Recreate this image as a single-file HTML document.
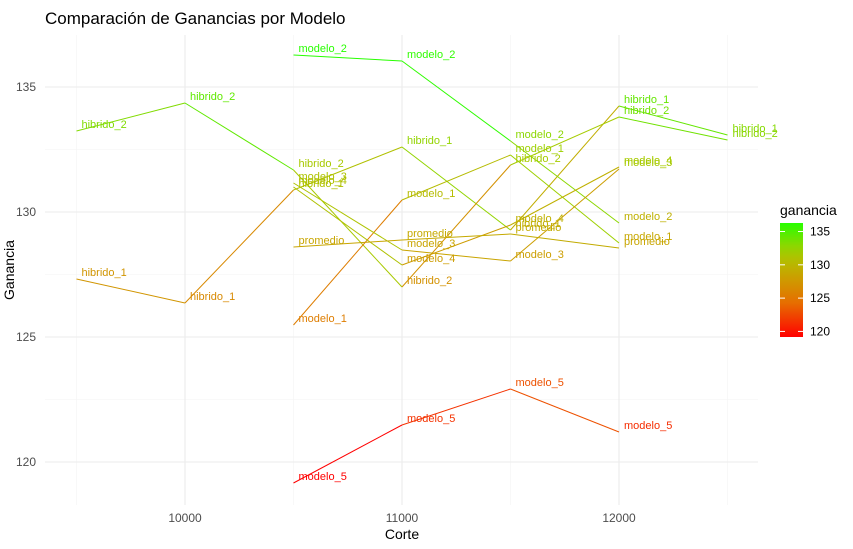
<!DOCTYPE html>
<html><head><meta charset="utf-8"><style>
body{margin:0;background:#fff;font-family:"Liberation Sans",sans-serif;}
</style></head><body>
<svg id="c" width="853" height="544" xmlns="http://www.w3.org/2000/svg" font-family="Liberation Sans, sans-serif"></svg>
<script>
const cortes=[9500,10000,10500,11000,11500,12000,12500];
const seriesNames=["hibrido_1","hibrido_2","modelo_1","modelo_2","modelo_3","modelo_4","modelo_5","promedio"];
const hibrido_1=[127.32,126.36,130.88,132.6,129.28,134.24,133.08];
const hibrido_2=[133.24,134.36,131.68,127.0,131.88,133.8,132.88];
const modelo_1=[null,null,125.48,130.48,132.28,128.76,null];
const modelo_2=[null,null,136.28,136.04,132.84,129.56,null];
const modelo_3=[null,null,131.16,128.48,128.04,131.72,null];
const modelo_4=[null,null,131.0,127.88,129.48,131.8,null];
const modelo_5=[null,null,119.16,121.48,122.92,121.2,null];
const promedio=[null,null,128.6,128.88,129.12,128.56,null];
const seriesVals=[hibrido_1,hibrido_2,modelo_1,modelo_2,modelo_3,modelo_4,modelo_5,promedio];
const xTicks=[10000,11000,12000];
const yTicks=[120,125,130,135];
const legendTicks=[120,125,130,135];

const NS="http://www.w3.org/2000/svg";
const svg=document.getElementById('c');
function X(v){return 185+(v-10000)*0.217;}
function Y(v){return 87+(135-v)*25;}
const all=seriesVals.flat().filter(v=>v!==null);
const vmin=Math.min(...all), vmax=Math.max(...all);
const stops=[[0,[255,0,0]],[0.3,[230,110,0]],[0.55,[200,165,0]],[0.75,[165,205,0]],[1,[40,255,0]]];
function col(v){let t=(v-vmin)/(vmax-vmin);t=Math.max(0,Math.min(1,t));
 for(let i=1;i<stops.length;i++){if(t<=stops[i][0]){const a=stops[i-1],b=stops[i];const f=(t-a[0])/(b[0]-a[0]);
 const c=a[1].map((x,k)=>Math.round(x+(b[1][k]-x)*f));return `rgb(${c[0]},${c[1]},${c[2]})`;}}return 'rgb(40,255,0)';}
function el(tag,attrs,txt){const e=document.createElementNS(NS,tag);for(const k in attrs)e.setAttribute(k,attrs[k]);if(txt!==undefined)e.textContent=txt;svg.appendChild(e);return e;}

[122.5,127.5,132.5].forEach(v=>{const g=el('line',{x1:45,x2:758,y1:Y(v),y2:Y(v),stroke:'#f3f3f3','stroke-width':0.6});

});
[9500,10500,11500,12500].forEach(v=>{const g=el('line',{x1:X(v),x2:X(v),y1:35,y2:505,stroke:'#f3f3f3','stroke-width':0.6});

});
yTicks.forEach(v=>{const g=el('line',{x1:45,x2:758,y1:Y(v),y2:Y(v),stroke:'#ebebeb','stroke-width':1.1});


const t=el('text',{x:36,y:Y(v)+4,'text-anchor':'end','font-size':12,fill:'#4d4d4d'},v);

});
xTicks.forEach(v=>{const g=el('line',{x1:X(v),x2:X(v),y1:35,y2:505,stroke:'#ebebeb','stroke-width':1.1});


const t=el('text',{x:X(v),y:522,'text-anchor':'middle','font-size':12,fill:'#4d4d4d'},v);

});

seriesVals.forEach((vals,si)=>{
 for(let i=0;i<vals.length-1;i++){if(vals[i]===null||vals[i+1]===null)continue;
  const l=el('line',{x1:X(cortes[i]),y1:Y(vals[i]),x2:X(cortes[i+1]),y2:Y(vals[i+1]),stroke:col(vals[i]),'stroke-width':1});
  
  }
});
seriesVals.forEach((vals,si)=>{
 vals.forEach((v,i)=>{if(v===null)return;
  const t=el('text',{x:X(cortes[i])+5,y:Y(v)-3,'font-size':11,fill:col(v)},seriesNames[si]);
  
  });
});

const ti=el('text',{x:45,y:24,'font-size':17,fill:'#000'},'Comparación de Ganancias por Modelo');


const xt=el('text',{x:402,y:539,'text-anchor':'middle','font-size':14,fill:'#000'},'Corte');


const yt=el('text',{x:0,y:0,'text-anchor':'middle','font-size':14,fill:'#000',transform:'translate(14,270) rotate(-90)'},'Ganancia');



const lt=el('text',{x:780,y:215,'font-size':14,fill:'#000'},'ganancia');


const defs=el('defs',{});
const lg=document.createElementNS(NS,'linearGradient');
lg.setAttribute('id','gr');lg.setAttribute('x1','0');lg.setAttribute('y1','1');lg.setAttribute('x2','0');lg.setAttribute('y2','0');
for(let k=0;k<=10;k++){const s=document.createElementNS(NS,'stop');s.setAttribute('offset',k/10);s.setAttribute('stop-color',col(vmin+(vmax-vmin)*k/10));lg.appendChild(s);}
defs.appendChild(lg);
const bar=el('rect',{x:780,y:223,width:23,height:114,fill:'url(#gr)'});


function LY(v){return 223+(vmax-v)*114/(vmax-vmin);}
legendTicks.forEach(v=>{
 const a=el('line',{x1:780,x2:785,y1:LY(v),y2:LY(v),stroke:'#fff','stroke-width':1});
 
 
 const b=el('line',{x1:798,x2:803,y1:LY(v),y2:LY(v),stroke:'#fff','stroke-width':1});
 
 
 const t=el('text',{x:810,y:LY(v)+4,'font-size':12,fill:'#000'},v);
 
 
});
</script>
</body></html>
